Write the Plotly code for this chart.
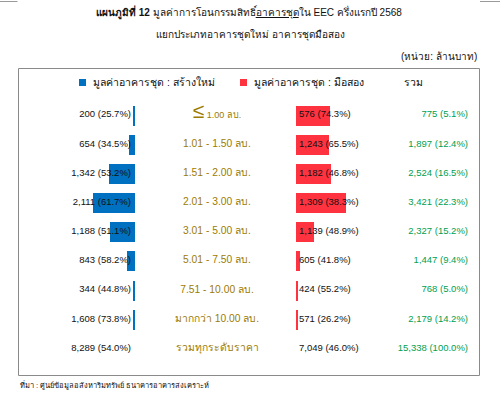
import plotly.graph_objects as go

# ---- data ----
ranges = ["≤", "1.01 - 1.50 ลบ.", "1.51 - 2.00 ลบ.", "2.01 - 3.00 ลบ.", "3.01 - 5.00 ลบ.",
          "5.01 - 7.50 ลบ.", "7.51 - 10.00 ลบ.", "มากกว่า 10.00 ลบ."]
total_label = "รวมทุกระดับราคา"
new_vals = [200, 654, 1342, 2111, 1188, 843, 344, 1608]
new_pct = [25.7, 34.5, 53.2, 61.7, 51.1, 58.2, 44.8, 73.8]
used_vals = [576, 1243, 1182, 1309, 1139, 605, 424, 571]
used_pct = [74.3, 65.5, 46.8, 38.3, 48.9, 41.8, 55.2, 26.2]
sum_vals = [775, 1897, 2524, 3421, 2327, 1447, 768, 2179]
sum_pct = [5.1, 12.4, 16.5, 22.3, 15.2, 9.4, 5.0, 14.2]
new_total, new_total_pct = 8289, 54.0
used_total, used_total_pct = 7049, 46.0
grand_total, grand_total_pct = 15338, 100.0
# bar lengths as drawn in the original graphic (arbitrary units)
new_bar = [2, 6, 26, 42, 25, 8, 2, 2]
used_bar = [34, 33, 35, 50, 18, 4, 1.5, 1.5]

BLUE = "#0070C0"
RED = "#FF3340"
GREEN = "#00A050"
GOLD = "#9C7C00"
FONT = "Liberation Sans, Noto Sans, sans-serif"

rows = [f"r{i}" for i in range(9)]

def fmt(v, p):
    return f"{v:,} ({p:.1f}%)"

fig = go.Figure()
fig.add_trace(go.Bar(y=rows[:8], x=new_bar, orientation="h", marker_color=BLUE,
                     width=0.69, xaxis="x", yaxis="y", hoverinfo="skip", marker_line_width=0))
fig.add_trace(go.Bar(y=rows[:8], x=used_bar, orientation="h", marker_color=RED,
                     width=0.69, xaxis="x2", yaxis="y", hoverinfo="skip", marker_line_width=0))

# text columns
new_text = [fmt(v, p) for v, p in zip(new_vals, new_pct)] + [fmt(new_total, new_total_pct)]
used_text = [fmt(v, p) for v, p in zip(used_vals, used_pct)] + [fmt(used_total, used_total_pct)]
sum_text = [fmt(v, p) for v, p in zip(sum_vals, sum_pct)] + [fmt(grand_total, grand_total_pct)]
mid_text = ["<span style='font-size:21px'>≤</span><span style='font-size:9px'> 1.00 ลบ.</span>"] + ranges[1:] + [total_label]

common = dict(mode="text", yaxis="y", hoverinfo="skip", cliponaxis=False)
fig.add_trace(go.Scatter(y=rows, x=[0] * 9, text=new_text, textposition="middle left",
                         textfont=dict(family=FONT, size=9.5, color="#111"), xaxis="x3", **common))
fig.add_trace(go.Scatter(y=rows, x=[0] * 9, text=mid_text, textposition="middle center",
                         textfont=dict(family=FONT, size=10.3, color=GOLD), xaxis="x4", **common))
fig.add_trace(go.Scatter(y=rows, x=[0] * 9, text=used_text, textposition="middle right",
                         textfont=dict(family=FONT, size=9.5, color="#111"), xaxis="x5", **common))
fig.add_trace(go.Scatter(y=rows, x=[0] * 9, text=sum_text, textposition="middle left",
                         textfont=dict(family=FONT, size=9.5, color=GREEN), xaxis="x6", **common))

W, H = 500, 399
def px(x):
    return x / W
def py(y):
    return 1 - y / H

hidden = dict(visible=False, fixedrange=True)
fig.update_layout(
    width=W, height=H, margin=dict(l=0, r=0, t=0, b=0),
    paper_bgcolor="white", plot_bgcolor="rgba(0,0,0,0)", showlegend=False,
    bargap=0,
    xaxis=dict(domain=[px(0), px(135)], range=[135, 0], **hidden),
    xaxis2=dict(domain=[px(296), px(480)], range=[0, 184], anchor="y", **hidden),
    xaxis3=dict(domain=[px(100), px(131)], range=[-1, 0], anchor="y", **hidden),
    xaxis4=dict(domain=[px(200), px(234)], range=[-1, 1], anchor="y", **hidden),
    xaxis5=dict(domain=[px(299), px(330)], range=[0, 1], anchor="y", **hidden),
    xaxis6=dict(domain=[px(430), px(468)], range=[-1, 0], anchor="y", **hidden),
    yaxis=dict(domain=[py(363), py(100.5)], type="category", categoryorder="array",
               categoryarray=rows, range=[8.5, -0.5], **hidden),
)

def note(x, y, text, size, xanchor="left", color="#111"):
    return dict(x=px(x), y=py(y), xref="paper", yref="paper", showarrow=False,
                xanchor=xanchor, yanchor="middle", text=text,
                font=dict(family=FONT, size=size, color=color))

ann = [
    note(249, 13, "<b>แผนภูมิที่ 12</b> มูลค่าการโอนกรรมสิทธิ์<u>อาคารชุด</u>ใน EEC ครึ่งแรกปี 2568", 10, "center"),
    note(250, 35, "แยกประเภทอาคารชุดใหม่ อาคารชุดมือสอง", 10, "center"),
    note(479, 57, "(หน่วย: ล้านบาท)", 10, "right"),
    note(91, 82, "มูลค่าอาคารชุด : สร้างใหม่", 10.5),
    note(252, 82, "มูลค่าอาคารชุด : มือสอง", 10.5),
    note(402, 82, "รวม", 10.5),
    note(18, 385, "ที่มา : ศูนย์ข้อมูลอสังหาริมทรัพย์ ธนาคารอาคารสงเคราะห์", 7.5),
]
fig.update_layout(annotations=ann)

shapes = [
    dict(type="rect", xref="paper", yref="paper", x0=px(18.5), x1=px(479.5), y0=py(375.5), y1=py(68.5),
         line=dict(color="#8a8a8a", width=1)),
    dict(type="rect", xref="paper", yref="paper", x0=px(79), x1=px(86), y0=py(86), y1=py(79),
         line=dict(width=0), fillcolor=BLUE),
    dict(type="rect", xref="paper", yref="paper", x0=px(240), x1=px(247), y0=py(86), y1=py(79),
         line=dict(width=0), fillcolor=RED),
    dict(type="line", xref="paper", yref="paper", x0=0, x1=px(17.5), y0=py(1.5), y1=py(1.5),
         line=dict(color="#9a9a9a", width=1)),
    dict(type="line", xref="paper", yref="paper", x0=px(480), x1=1, y0=py(1.5), y1=py(1.5),
         line=dict(color="#9a9a9a", width=1)),
]
fig.update_layout(shapes=shapes)

fig.write_html("out.html", config={"displayModeBar": False},
               post_script="document.body.style.margin='0';")
